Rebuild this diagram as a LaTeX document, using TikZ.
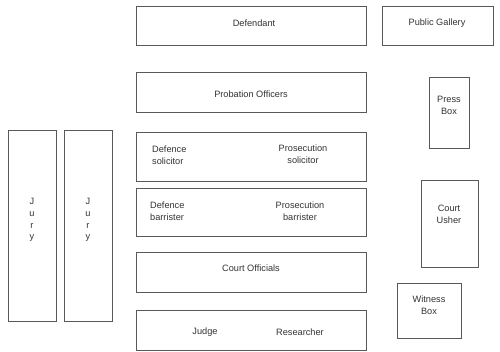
\documentclass[tikz,border=0pt]{standalone}
\usepackage{fontspec}
\setmainfont{Liberation Sans}
\begin{document}
\begin{tikzpicture}[x=1pt,y=-1pt,
  box/.style={draw=black!65,line width=0.8pt,inner sep=0pt,anchor=north west},
  lbl/.style={inner sep=0pt,align=center,text=black!80,font=\fontsize{9.2}{11.8}\selectfont},
  lbll/.style={lbl,align=left,anchor=west}]
\useasboundingbox[fill=white] (0,0) rectangle (500,351);
\newcommand\bx[5]{\node[box,minimum width={(#4-#2)*1pt},minimum height={(#5-#3)*1pt}] (#1) at (#2,#3) {};}
\bx{defb}{136}{6}{366}{45}
\bx{pubb}{382}{6}{493}{45}
\bx{prob}{136}{72}{366}{112}
\bx{pressb}{429}{77}{469}{148}
\bx{solb}{136}{132}{366}{181}
\bx{barb}{136}{188}{366}{236}
\bx{offb}{136}{252}{366}{292}
\bx{judb}{136}{310}{366}{350}
\bx{jury1}{8}{130}{56}{321}
\bx{jury2}{64}{130}{112}{321}
\bx{ushb}{421}{180}{478}{267}
\bx{witb}{397}{283}{461}{338}
\node[lbl] (tdef) at (254,23) {Defendant};
\node[lbl] (tpub) at (437,23) {Public Gallery};
\node[lbl] (tpro) at (251,94) {Probation Officers};
\node[lbl] (tpress) at (449,105) {Press\\Box};
\node[lbll] (tdsol) at (152,155) {Defence\\solicitor};
\node[lbl] (tpsol) at (303,154) {Prosecution\\solicitor};
\node[lbll] (tdbar) at (150,211) {Defence\\barrister};
\node[lbl] (tpbar) at (300,211) {Prosecution\\barrister};
\node[lbl] (toff) at (251,268) {Court Officials};
\node[lbl] (tjud) at (205,332) {Judge};
\node[lbl] (tres) at (300,332) {Researcher};
\node[lbl] (tush) at (449,214) {Court\\Usher};
\node[lbl] (twit) at (429,305) {Witness\\Box};
\node[lbl] (tj1) at (32,220) {J\\u\\r\\y};
\node[lbl] (tj2) at (88,220) {J\\u\\r\\y};
\end{tikzpicture}
\end{document}
